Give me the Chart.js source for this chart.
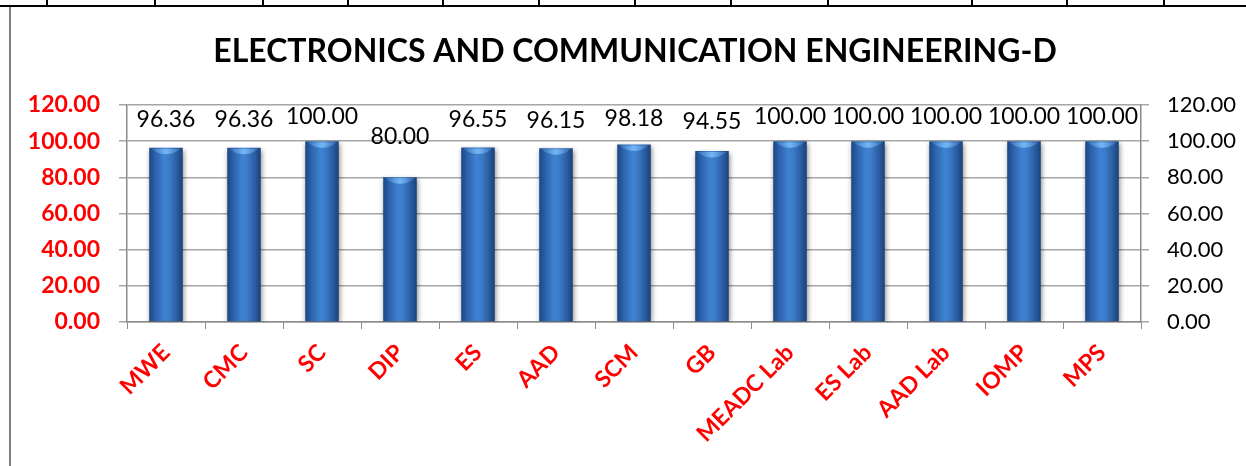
<!DOCTYPE html>
<html><head><meta charset="utf-8">
<script src="https://cdn.jsdelivr.net/npm/chart.js@4.4.0/dist/chart.umd.min.js"></script>
<style>
html,body{margin:0;padding:0;background:#fff;}
#wrap{position:relative;width:1246px;height:466px;overflow:hidden;background:#fff;}
#c{position:absolute;left:0;top:0;}
.ln{position:absolute;background:#000;}
</style></head><body>
<div id="wrap">
<canvas id="c" width="1246" height="466"></canvas>
<div class="ln" style="left:0;top:5px;width:1246px;height:2px;"></div>
<div class="ln" style="left:46px;top:0;width:2px;height:6px;"></div>
<div class="ln" style="left:154px;top:0;width:2px;height:6px;"></div>
<div class="ln" style="left:262px;top:0;width:2px;height:6px;"></div>
<div class="ln" style="left:347px;top:0;width:2px;height:6px;"></div>
<div class="ln" style="left:442px;top:0;width:2px;height:6px;"></div>
<div class="ln" style="left:538px;top:0;width:2px;height:6px;"></div>
<div class="ln" style="left:634px;top:0;width:2px;height:6px;"></div>
<div class="ln" style="left:730px;top:0;width:2px;height:6px;"></div>
<div class="ln" style="left:827px;top:0;width:2px;height:6px;"></div>
<div class="ln" style="left:971px;top:0;width:2px;height:6px;"></div>
<div class="ln" style="left:1066px;top:0;width:2px;height:6px;"></div>
<div class="ln" style="left:1163px;top:0;width:2px;height:6px;"></div>
<div class="ln" style="left:9px;top:7px;width:2px;height:459px;background:#7f7f7f;"></div>
</div>
<script>
const categories = ['MWE','CMC','SC','DIP','ES','AAD','SCM','GB','MEADC Lab','ES Lab','AAD Lab','IOMP','MPS'];
const values = [96.36, 96.36, 100.00, 80.00, 96.55, 96.15, 98.18, 94.55, 100.00, 100.00, 100.00, 100.00, 100.00];
const yTicks = [0, 20, 40, 60, 80, 100, 120];
const titleText = 'ELECTRONICS AND COMMUNICATION ENGINEERING-D';

const FONT = 'Lato';
const BAR_PCT = 0.43;
const PAD_LEFT = 24;

function barFill(ctx) {
  const chart = ctx.chart;
  const xs = chart.scales.x;
  if (!xs || !chart.chartArea || ctx.dataIndex === undefined) return '#2f6cb8';
  const cx = xs.getPixelForValue(ctx.dataIndex);
  const w = (xs.width / categories.length) * BAR_PCT;
  const g = chart.ctx.createLinearGradient(cx - w / 2, 0, cx + w / 2, 0);
  g.addColorStop(0, '#1c4683');
  g.addColorStop(0.18, '#2c62ab');
  g.addColorStop(0.45, '#3f82d2');
  g.addColorStop(0.6, '#3b7bc9');
  g.addColorStop(0.85, '#28599c');
  g.addColorStop(1, '#1a4178');
  return g;
}

const shadowPlugin = {
  id: 'barShadow',
  beforeDatasetsDraw(chart) {
    const c = chart.ctx;
    c.save();
    c.shadowColor = 'rgba(0,0,0,0.45)';
    c.shadowBlur = 5;
    c.shadowOffsetX = 1;
    c.shadowOffsetY = 2;
  },
  afterDatasetsDraw(chart) {
    chart.ctx.restore();
  }
};

const capPlugin = {
  id: 'barCaps',
  afterDatasetsDraw(chart) {
    const c = chart.ctx;
    const meta = chart.getDatasetMeta(0);
    meta.data.forEach((el) => {
      const w = el.width;
      c.save();
      const g = c.createLinearGradient(el.x - w / 2, 0, el.x + w / 2, 0);
      g.addColorStop(0, 'rgba(90,150,220,0.2)');
      g.addColorStop(0.5, 'rgba(120,185,245,0.95)');
      g.addColorStop(1, 'rgba(90,150,220,0.2)');
      c.fillStyle = g;
      c.beginPath();
      c.moveTo(el.x - w / 2 + 2, el.y + 1);
      c.lineTo(el.x + w / 2 - 2, el.y + 1);
      c.quadraticCurveTo(el.x, el.y + 12, el.x - w / 2 + 2, el.y + 1);
      c.fill();
      c.restore();
    });
  }
};

const labelPlugin = {
  id: 'valueLabels',
  afterDraw(chart) {
    const c = chart.ctx;
    const top = chart.chartArea.top;
    const meta = chart.getDatasetMeta(0);
    c.save();
    c.font = '23px ' + FONT;
    c.fillStyle = '#000';
    c.textAlign = 'center';
    c.textBaseline = 'middle';
    meta.data.forEach((el, i) => {
      let y = top + 8 + 0.55 * (el.y - top - 30);
      if (y < top + 8) y = top + 8;
      c.fillText(values[i].toFixed(2), el.x, y);
    });
    c.restore();
  }
};

Chart.defaults.font.family = FONT;

const chart = new Chart(document.getElementById('c'), {
  type: 'bar',
  data: {
    labels: categories,
    datasets: [{
      data: values,
      backgroundColor: barFill,
      borderWidth: 0,
      barPercentage: BAR_PCT,
      categoryPercentage: 1.0
    }]
  },
  plugins: [shadowPlugin, capPlugin, labelPlugin],
  options: {
    responsive: false,
    animation: false,
    layout: { padding: { top: 0, bottom: 0, left: PAD_LEFT, right: 0 } },
    plugins: {
      legend: { display: false },
      tooltip: { enabled: false },
      title: {
        display: true,
        text: titleText,
        color: '#000',
        font: { family: FONT, size: 32, weight: 'bold', lineHeight: 1.2 },
        padding: { top: 32, bottom: 34.6 }
      }
    },
    scales: {
      x: {
        position: 'bottom',
        grid: { display: true, drawOnChartArea: false, drawTicks: true, tickLength: 7, color: '#8c8c8c', offset: true },
        border: { display: true, color: '#8c8c8c', width: 1.5 },
        ticks: {
          color: '#ff0000',
          font: { family: FONT, size: 23, weight: 'bold' },
          minRotation: 45,
          maxRotation: 45,
          autoSkip: false,
          padding: 10,
          labelOffset: 0
        },
        afterFit(s) { s.height = 144; }
      },
      y: {
        position: 'left',
        min: 0,
        max: 120,
        afterBuildTicks(s) { s.ticks = yTicks.map(v => ({ value: v })); },
        grid: { color: '#a6a6a6', lineWidth: 1.5, tickLength: 8, drawTicks: true },
        border: { display: true, color: '#8c8c8c', width: 1.5 },
        ticks: {
          color: '#ff0000',
          font: { family: FONT, size: 23, weight: 'bold' },
          padding: 19,
          callback: (v) => Number(v).toFixed(2)
        },
        afterFit(s) { s.width = 127 - PAD_LEFT; }
      },
      y2: {
        position: 'right',
        min: 0,
        max: 120,
        afterBuildTicks(s) { s.ticks = yTicks.map(v => ({ value: v })); },
        grid: { drawOnChartArea: false, color: '#a6a6a6', lineWidth: 1.5, tickLength: 8, drawTicks: true },
        border: { display: true, color: '#8c8c8c', width: 1.5 },
        ticks: {
          color: '#000',
          font: { family: FONT, size: 22 },
          padding: 18,
          callback: (v) => Number(v).toFixed(2)
        },
        afterFit(s) { s.width = 105; }
      }
    }
  }
});
chart.update();
</script>
</body></html>
